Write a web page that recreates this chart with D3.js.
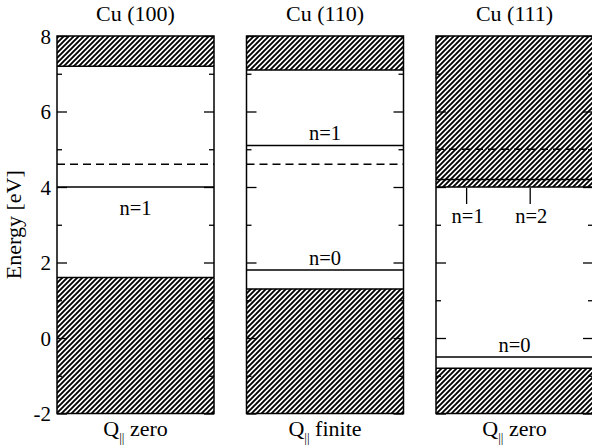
<!DOCTYPE html>
<html><head><meta charset="utf-8">
<script src="https://cdn.jsdelivr.net/npm/d3@7"></script>
<style>body{margin:0;background:#fff}</style>
</head><body>
<svg id="c" width="592" height="448"></svg>
<script>
// ---- data ----
const panels = ["Cu (100)", "Cu (110)", "Cu (111)"];
const bottomLabels = ["zero", "finite", "zero"];
const upperBandBottom = [7.2, 7.1, 4.0];   // conduction band start (hatched up to 8)
const lowerBandTop = [1.6, 1.3, -0.8];     // valence band top (hatched down to -2)
const vacuumLevel = [4.6, 4.6, 5.0];       // dashed lines
const extraLines = [[], [], [4.2]];        // extra solid lines inside bands
const states = [
  {p: 0, e: 4.0, label: "n=1", pos: "below"},
  {p: 1, e: 5.1, label: "n=1", pos: "above"},
  {p: 1, e: 1.8, label: "n=0", pos: "above"},
  {p: 2, e: -0.5, label: "n=0", pos: "above"}
];
const markers = [
  {p: 2, frac: 0.195, label: "n=1"},
  {p: 2, frac: 0.6, label: "n=2"}
];
const majorTicks = [-2, 0, 2, 4, 6, 8];
const minorTicks = [-1, 1, 3, 5, 7];
const yDomain = [-2, 8];

// ---- layout ----
const FONT = "'Liberation Serif', 'Times New Roman', serif";
const svg = d3.select("#c");
const panelLeft = [57, 246.5, 436];
const panelW = 157;
const yTop = 36, yBot = 413.5;
const y = d3.scaleLinear().domain(yDomain).range([yBot, yTop]);
const xBand = d3.scaleOrdinal().domain(panels).range(panelLeft);

const defs = svg.append("defs");
const pat = defs.append("pattern").attr("id", "hatch").attr("patternUnits", "userSpaceOnUse")
  .attr("width", 5).attr("height", 5);
pat.append("rect").attr("width", 5).attr("height", 5).attr("fill", "#fff");
pat.append("path").attr("d", "M-1,1 l2,-2 M0,5 l5,-5 M4,6 l2,-2")
  .attr("stroke", "#000").attr("stroke-width", 1.9);

function txt(sel, size) { return sel.style("font-family", FONT).style("font-size", size + "px").attr("fill", "#000"); }

panels.forEach((name, i) => {
  const x0 = xBand(name), x1 = x0 + panelW;
  const g = svg.append("g");
  g.append("rect").attr("x", x0).attr("y", y(8)).attr("width", panelW)
    .attr("height", y(upperBandBottom[i]) - y(8)).attr("fill", "url(#hatch)");
  g.append("rect").attr("x", x0).attr("y", y(lowerBandTop[i])).attr("width", panelW)
    .attr("height", y(-2) - y(lowerBandTop[i])).attr("fill", "url(#hatch)");
  [upperBandBottom[i], lowerBandTop[i]].concat(extraLines[i]).forEach(e => {
    g.append("line").attr("x1", x0).attr("x2", x1).attr("y1", y(e)).attr("y2", y(e))
      .attr("stroke", "#000").attr("stroke-width", 1.5);
  });
  g.append("line").attr("x1", x0).attr("x2", x1).attr("y1", y(vacuumLevel[i])).attr("y2", y(vacuumLevel[i]))
    .attr("stroke", "#000").attr("stroke-width", 1.5).attr("stroke-dasharray", "8,5");

  const axL = d3.axisLeft(y).tickValues(majorTicks).tickSizeInner(-10).tickSizeOuter(0).tickPadding(6)
    .tickFormat(d => String(d));
  if (i > 0) axL.tickFormat("");
  const gl = g.append("g").attr("transform", `translate(${x0},0)`).call(axL);
  gl.select(".domain").remove();
  const axLm = d3.axisLeft(y).tickValues(minorTicks).tickSizeInner(-5).tickSizeOuter(0).tickFormat("");
  g.append("g").attr("transform", `translate(${x0},0)`).call(axLm).select(".domain").remove();
  const axR = d3.axisRight(y).tickValues(majorTicks).tickSizeInner(-10).tickSizeOuter(0).tickFormat("");
  g.append("g").attr("transform", `translate(${x1},0)`).call(axR).select(".domain").remove();
  const axRm = d3.axisRight(y).tickValues(minorTicks).tickSizeInner(-5).tickSizeOuter(0).tickFormat("");
  g.append("g").attr("transform", `translate(${x1},0)`).call(axRm).select(".domain").remove();
  g.selectAll(".tick line").attr("stroke", "#000").attr("stroke-width", 1.3);
  txt(g.selectAll(".tick text"), 21).attr("dy", "0.34em");

  g.append("rect").attr("x", x0).attr("y", yTop).attr("width", panelW).attr("height", yBot - yTop)
    .attr("fill", "none").attr("stroke", "#000").attr("stroke-width", 1.5);

  txt(svg.append("text"), 22).attr("x", x0 + panelW / 2).attr("y", 21).attr("text-anchor", "middle").text(name);
  const t = txt(svg.append("text"), 22).attr("x", x0 + panelW / 2).attr("y", 436).attr("text-anchor", "middle");
  t.append("tspan").text("Q");
  t.append("tspan").style("font-size", "13px").attr("dy", 6).text("||");
  t.append("tspan").attr("dy", -6).text(" " + bottomLabels[i]);
});

states.forEach(s => {
  const x0 = panelLeft[s.p], x1 = x0 + panelW;
  svg.append("line").attr("x1", x0).attr("x2", x1).attr("y1", y(s.e)).attr("y2", y(s.e))
    .attr("stroke", "#000").attr("stroke-width", 1.5);
  txt(svg.append("text"), 20.5).attr("x", x0 + panelW * 0.5).attr("y", s.pos === "above" ? y(s.e) - 5 : y(s.e) + 28)
    .attr("text-anchor", "middle").text(s.label);
});
markers.forEach(m => {
  const x0 = panelLeft[m.p];
  const xm = x0 + panelW * m.frac;
  const eTop = upperBandBottom[m.p];
  svg.append("line").attr("x1", xm).attr("x2", xm).attr("y1", y(eTop) + 1).attr("y2", y(eTop) + 17)
    .attr("stroke", "#000").attr("stroke-width", 1.3);
  txt(svg.append("text"), 20.5).attr("x", xm + 1).attr("y", y(eTop) + 36).attr("text-anchor", "middle").text(m.label);
});

txt(svg.append("text"), 22).attr("transform", `translate(21,${(yTop + yBot) / 2}) rotate(-90)`)
  .attr("text-anchor", "middle").text("Energy [eV]");
</script>
</body></html>
